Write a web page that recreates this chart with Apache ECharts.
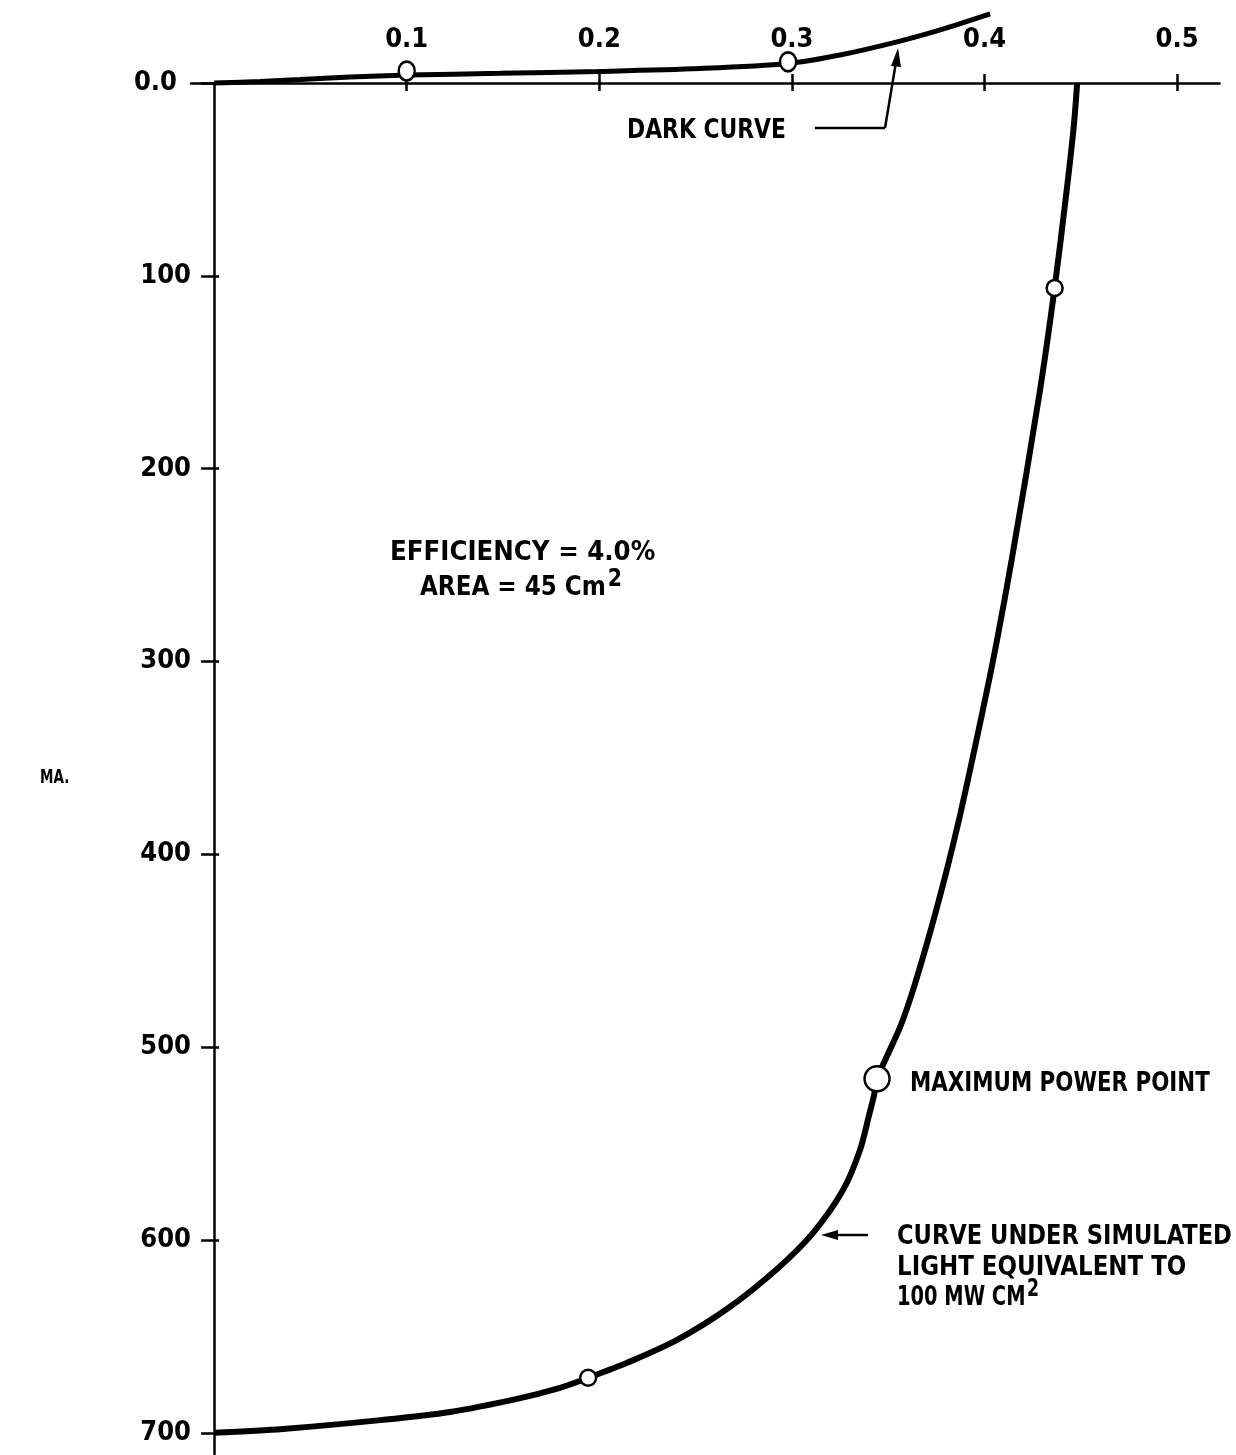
<!DOCTYPE html>
<html>
<head>
<meta charset="utf-8">
<script src="https://cdn.jsdelivr.net/npm/echarts@6/dist/echarts.min.js"></script>
<style>
html,body{margin:0;padding:0;background:#fff;}
#chart{width:1236px;height:1455px;}
</style>
</head>
<body>
<div id="chart"></div>
<script>
// Tick values / labels
const xTickValues = [0.1, 0.2, 0.3, 0.4, 0.5];
const xTickLabels = ['0.1', '0.2', '0.3', '0.4', '0.5'];
const yTickValues = [0, 100, 200, 300, 400, 500, 600, 700];
const yTickLabels = ['0.0', '100', '200', '300', '400', '500', '600', '700'];

// Curve under simulated light (volts, mA)
const lightVolts = [0, 0.0358, 0.0877, 0.1225, 0.1573, 0.1796, 0.1942, 0.2144, 0.2404, 0.2664, 0.2923, 0.3110, 0.3266, 0.3354, 0.3401, 0.3427, 0.3442, 0.3562, 0.3634, 0.3721, 0.3804, 0.3871, 0.3944, 0.4010, 0.4062, 0.4141, 0.4286, 0.4364, 0.4425, 0.4463, 0.4481];
const lightMA    = [700, 698.0, 693.3, 689.2, 682.4, 676.7, 671.5, 663.7, 651.8, 635.7, 615.0, 596.3, 574.0, 553.2, 535.1, 524.7, 516.4, 489.5, 468.7, 439.2, 408.1, 380.6, 347.4, 316.3, 290.4, 247.3, 160.7, 106.3, 57.0, 22.8, 0];

// Dark curve (volts, mA)
const darkVolts = [0, 0.0239, 0.0447, 0.0706, 0.1002, 0.1485, 0.1994, 0.2523, 0.2980, 0.3250, 0.3546, 0.3770, 0.4029];
const darkMA    = [0, -0.8, -1.8, -3.1, -4.1, -5.0, -6.0, -7.5, -10.1, -14.5, -21.3, -27.5, -35.8];

// Measured points (open circles)
const lightPointVolts = [0.4364, 0.1942];
const lightPointMA    = [106.3, 671.5];
const maxPowerVolts = [0.3442];
const maxPowerMA    = [516.4];
const darkPointVolts = [0.100, 0.298];
const darkPointMA    = [-6.2, -11.0];

const FONT = '"DejaVu Sans Condensed", "DejaVu Sans", sans-serif';

const zip = (a, b) => a.map((v, i) => [v, b[i]]);

const chart = echarts.init(document.getElementById('chart'), null, {renderer: 'canvas'});

const xMin = -0.012, xMax = 0.522, yMin = 0, yMax = 711;

function txt(text, x, y, size, sx, rich) {
  const style = {text: text, fontFamily: FONT, fontWeight: 'bold', fontSize: size, fill: '#000', align: 'left', verticalAlign: 'middle'};
  if (rich) style.rich = rich;
  return {type: 'text', x: x, y: y, scaleX: sx, scaleY: 1, style: style, z: 10};
}
const supRich = {sup: {fontFamily: FONT, fontWeight: 'bold', fontSize: 24, fill: '#000', padding: [0, 0, 16, 2]}};

const pointStyle = {color: '#fff', borderColor: '#000', borderWidth: 2.5, opacity: 1};

const option = {
  backgroundColor: '#fff',
  animation: false,
  grid: {left: 191, top: 83, width: 1028.5, height: 1371, containLabel: false},
  xAxis: [
    {
      type: 'value', position: 'top', min: xMin, max: xMax,
      axisLine: {show: true, onZero: true, lineStyle: {color: '#000', width: 2.5}},
      axisTick: {show: true, inside: false, length: 9, customValues: xTickValues, lineStyle: {color: '#000', width: 2.5}},
      axisLabel: {show: true, margin: 30, customValues: xTickValues,
        formatter: v => xTickLabels[xTickValues.findIndex(t => Math.abs(t - v) < 1e-9)] || '',
        fontFamily: FONT, fontWeight: 'bold', fontSize: 27, color: '#000'},
      splitLine: {show: false}
    },
    {
      type: 'value', position: 'top', min: xMin, max: xMax,
      axisLine: {show: false, onZero: true},
      axisTick: {show: true, inside: true, length: 8, customValues: xTickValues, lineStyle: {color: '#000', width: 2.5}},
      axisLabel: {show: false},
      splitLine: {show: false}
    }
  ],
  yAxis: [
    {
      type: 'value', position: 'left', inverse: true, min: yMin, max: yMax,
      axisLine: {show: true, onZero: true, lineStyle: {color: '#000', width: 2.5}},
      axisTick: {show: true, inside: false, length: 13, customValues: yTickValues, lineStyle: {color: '#000', width: 2.5}},
      axisLabel: {show: true, margin: 0, customValues: yTickValues,
        formatter: v => {
          const s = yTickLabels[yTickValues.indexOf(v)] || '';
          return v === 0 ? '{z|' + s + '}' : s;
        },
        rich: {z: {fontFamily: FONT, fontWeight: 'bold', fontSize: 27, color: '#000', padding: [0, 14, 0, 0]}},
        fontFamily: FONT, fontWeight: 'bold', fontSize: 27, color: '#000'},
      splitLine: {show: false}
    },
    {
      type: 'value', position: 'left', inverse: true, min: yMin, max: yMax,
      axisLine: {show: false, onZero: true},
      axisTick: {show: true, inside: true, length: 5, customValues: yTickValues, lineStyle: {color: '#000', width: 2.5}},
      axisLabel: {show: false},
      splitLine: {show: false}
    }
  ],
  series: [
    {
      name: 'light', type: 'line', data: zip(lightVolts, lightMA),
      smooth: 0.3, showSymbol: false, clip: false,
      lineStyle: {color: '#000', width: 6}, z: 3
    },
    {
      name: 'dark', type: 'line', data: zip(darkVolts, darkMA),
      smooth: 0.3, showSymbol: false, clip: false,
      lineStyle: {color: '#000', width: 5}, z: 3
    },
    {
      name: 'lightPts', type: 'scatter', data: zip(lightPointVolts, lightPointMA),
      symbol: 'circle', symbolSize: 16, clip: false,
      itemStyle: pointStyle, z: 5
    },
    {
      name: 'maxPower', type: 'scatter', data: zip(maxPowerVolts, maxPowerMA),
      symbol: 'circle', symbolSize: 25, clip: false,
      itemStyle: pointStyle, z: 5
    },
    {
      name: 'darkPts', type: 'scatter', data: zip(darkPointVolts, darkPointMA),
      symbol: 'circle', symbolSize: [16, 19], clip: false,
      itemStyle: pointStyle, z: 5
    }
  ],
  graphic: [
    txt('MA.', 40, 778, 20, 0.75),
    txt('DARK CURVE', 627, 131, 27, 0.90),
    {type: 'line', shape: {x1: 815, y1: 128, x2: 885, y2: 128}, style: {stroke: '#000', lineWidth: 2.5}},
    {type: 'line', shape: {x1: 885, y1: 128, x2: 896, y2: 62}, style: {stroke: '#000', lineWidth: 2.5}},
    {type: 'polygon', shape: {points: [[898, 48], [891, 66], [901, 67]]}, style: {fill: '#000'}},
    txt('EFFICIENCY = 4.0%', 390, 553, 27, 1.01),
    txt('AREA = 45 Cm{sup|2}', 420, 588, 27, 0.95, supRich),
    txt('MAXIMUM POWER POINT', 910, 1084, 27, 0.88),
    {type: 'line', shape: {x1: 868, y1: 1235, x2: 836, y2: 1235}, style: {stroke: '#000', lineWidth: 2.5}},
    {type: 'polygon', shape: {points: [[821, 1235], [838, 1230], [838, 1240]]}, style: {fill: '#000'}},
    txt('CURVE UNDER SIMULATED', 897, 1237, 27, 0.93),
    txt('LIGHT EQUIVALENT TO', 897, 1268, 27, 0.945),
    txt('100 MW CM{sup|2}', 897, 1298, 27, 0.8, supRich)
  ]
};

chart.setOption(option);
</script>
</body>
</html>
